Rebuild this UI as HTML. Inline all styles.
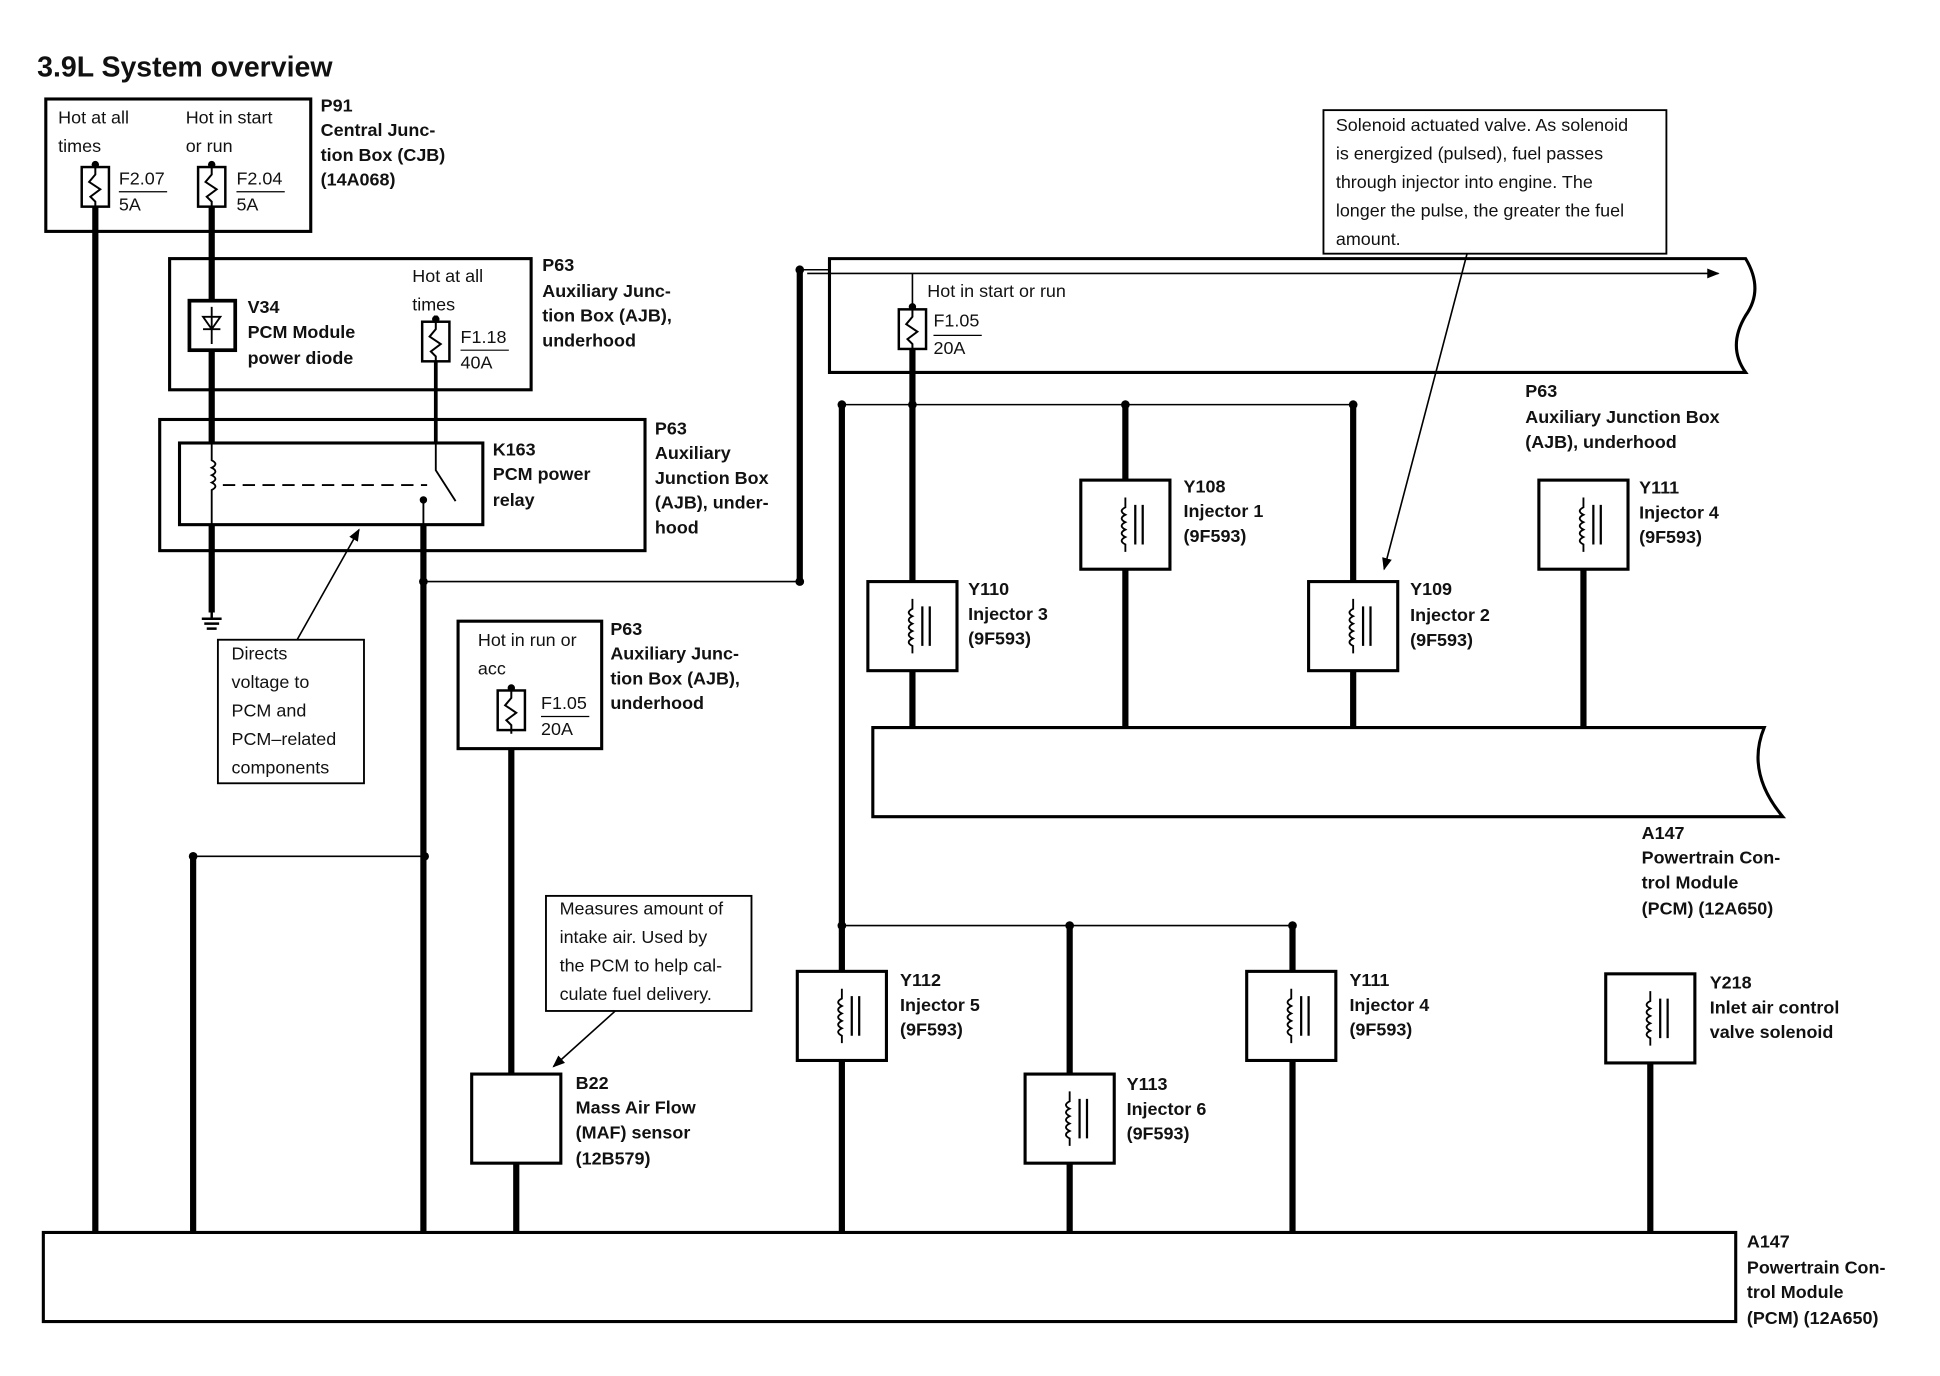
<!DOCTYPE html>
<html><head><meta charset="utf-8"><style>
html,body{margin:0;padding:0;background:#fff;}
svg{display:block}
text{font-family:"Liberation Sans",Arial,sans-serif;font-size:14.5px;fill:#111}
.b{font-weight:bold}
</style></head><body>
<svg width="1940" height="1376" viewBox="0 0 1567 1112" preserveAspectRatio="none" xmlns="http://www.w3.org/2000/svg">
<defs>
<g id="fuse"><rect x="-11" y="0" width="22" height="32" fill="#fff" stroke="#000" stroke-width="2"/><path d="M0,-3 V6 L-5,12 L4,18 L-4,24 L0,28 V35" fill="none" stroke="#000" stroke-width="1.6"/><circle cx="0" cy="-2" r="3"/></g>
<g id="inj"><rect x="-36" y="0" width="72" height="72" fill="#fff" stroke="#000" stroke-width="2.5"/><path d="M0,14 V22 q-6,3 0,6 q-6,3 0,6 q-6,3 0,6 q-6,3 0,6 q-6,3 0,6 V58" fill="none" stroke="#000" stroke-width="1.5"/><path d="M8,20 V52 M14,20 V52" stroke="#000" stroke-width="1.8"/></g>
<marker id="ar" markerWidth="10" markerHeight="10" refX="9" refY="5" orient="auto" markerUnits="userSpaceOnUse"><path d="M0,1 L10,5 L0,9 z"/></marker>
</defs>
<g fill="none" stroke="#000">
<text x="30" y="62" class="b" style="font-size:23px" stroke="none">3.9L System overview</text>
<rect x="37" y="80" width="214" height="107" stroke-width="2.5"/>
<path d="M77,167 V997 M171,167 V495 M342,404 V997 M156,692 V997 M680,327 V997 M417,940 V997 M864,748 V868 M864,940 V997 M1044,748 V785 M1044,857 V997 M1333,859 V997 M413,605 V868 M737,282 V588 M909,327 V388 M909,458 V588 M1093,327 V470 M1093,540 V588 M1279,460 V588 M646,218 V470" stroke-width="5"/>
<path d="M352,292 V380 M352,255 V262" stroke-width="3"/>
<rect x="137" y="209" width="292" height="106" stroke-width="2.5"/>
<rect x="153" y="243" width="37" height="40" fill="#fff" stroke-width="3"/>
<path d="M171,248 V278 M164,256 H178 L171,266 Z M164,266 H178" stroke-width="1.5"/>
<rect x="129" y="339" width="392" height="106" stroke-width="2.5"/>
<rect x="145" y="358" width="245" height="66" fill="#fff" stroke-width="2.5"/>
<path d="M171,358 V372 q6,3 0,6 q6,3 0,6 q6,3 0,6 q6,3 0,6 V424" stroke-width="1.5"/>
<path d="M180,392 H345" stroke-width="1.5" stroke-dasharray="10,6"/>
<path d="M352,358 V380 L368,405" stroke-width="1.5"/>
<path d="M342,404 V424" stroke-width="1.5"/>
<circle cx="342" cy="404" r="2.5" fill="#000"/>
<path d="M171,495 V500 M163,500 H179 M165,504 H177 M167,508 H175" stroke-width="2"/>
<rect x="176" y="517" width="118" height="116" stroke-width="1.5"/>
<path d="M240,517 L290,428" stroke-width="1.3" marker-end="url(#ar)"/>
<path d="M342,470 H646 M646,218 H670 M156,692 H343" stroke-width="1.3"/>
<path d="M670,209 H1410 q15,25 0,46 q-15,25 0,46 H670 Z" stroke-width="2.5"/>
<path d="M652,221 H1388" stroke-width="1.3" marker-end="url(#ar)"/>
<path d="M737,221 V250" stroke-width="1.3"/>
<rect x="1069" y="89" width="277" height="116" stroke-width="1.5"/>
<path d="M1185,205 L1118,460" stroke-width="1.3" marker-end="url(#ar)"/>
<path d="M680,327 H1093 M680,748 H1044" stroke-width="1.3"/>
<path d="M705,588 H1425 q-15,36 15,72 H705 Z" stroke-width="2.5"/>
<rect x="370" y="502" width="116" height="103" stroke-width="2.5"/>
<rect x="441" y="724" width="166" height="93" stroke-width="1.5"/>
<path d="M497,817 L447,862" stroke-width="1.3" marker-end="url(#ar)"/>
<rect x="381" y="868" width="72" height="72" stroke-width="2.5"/>
<rect x="35" y="996" width="1367" height="72" stroke-width="2.5"/>
<path d="M96,155 H135 M191,155 H230 M372,283 H411 M754,271 H793 M437,579 H476" stroke-width="1"/>
</g>
<g fill="#000">
<circle cx="342" cy="470" r="3.5"/><circle cx="646" cy="218" r="3.5"/><circle cx="646" cy="470" r="3.5"/>
<circle cx="156" cy="692" r="3.5"/><circle cx="343" cy="692" r="3.5"/>
<circle cx="680" cy="327" r="3.5"/><circle cx="737" cy="327" r="3.5"/><circle cx="909" cy="327" r="3.5"/><circle cx="1093" cy="327" r="3.5"/>
<circle cx="680" cy="748" r="3.5"/><circle cx="864" cy="748" r="3.5"/><circle cx="1044" cy="748" r="3.5"/>
</g>
<use href="#fuse" x="77" y="135"/><use href="#fuse" x="171" y="135"/><use href="#fuse" x="352" y="260"/><use href="#fuse" x="737" y="250"/><use href="#fuse" x="413" y="558"/>
<use href="#inj" x="909" y="388"/><use href="#inj" x="737" y="470"/><use href="#inj" x="1093" y="470"/><use href="#inj" x="1279" y="388"/>
<use href="#inj" x="680" y="785"/><use href="#inj" x="864" y="868"/><use href="#inj" x="1043" y="785"/><use href="#inj" x="1333" y="787"/>
<text x="47" y="100">Hot at all</text><text x="47" y="123">times</text>
<text x="150" y="100">Hot in start</text><text x="150" y="123">or run</text>
<text x="96" y="149">F2.07</text><text x="96" y="170">5A</text>
<text x="191" y="149">F2.04</text><text x="191" y="170">5A</text>
<text class="b" x="259" y="90">P91</text><text class="b" x="259" y="110">Central Junc-</text><text class="b" x="259" y="130">tion Box (CJB)</text><text class="b" x="259" y="150">(14A068)</text>
<text class="b" x="200" y="253">V34</text><text class="b" x="200" y="273">PCM Module</text><text class="b" x="200" y="294">power diode</text>
<text x="333" y="228">Hot at all</text><text x="333" y="251">times</text>
<text x="372" y="277">F1.18</text><text x="372" y="298">40A</text>
<text class="b" x="438" y="219">P63</text><text class="b" x="438" y="240">Auxiliary Junc-</text><text class="b" x="438" y="260">tion Box (AJB),</text><text class="b" x="438" y="280">underhood</text>
<text class="b" x="398" y="368">K163</text><text class="b" x="398" y="388">PCM power</text><text class="b" x="398" y="409">relay</text>
<text class="b" x="529" y="351">P63</text><text class="b" x="529" y="371">Auxiliary</text><text class="b" x="529" y="391">Junction Box</text><text class="b" x="529" y="411">(AJB), under-</text><text class="b" x="529" y="431">hood</text>
<text x="187" y="533">Directs</text><text x="187" y="556">voltage to</text><text x="187" y="579">PCM and</text><text x="187" y="602">PCM–related</text><text x="187" y="625">components</text>
<text x="749" y="240">Hot in start or run</text><text x="754" y="264">F1.05</text><text x="754" y="286">20A</text>
<text x="1079" y="106">Solenoid actuated valve. As solenoid</text><text x="1079" y="129">is energized (pulsed), fuel passes</text><text x="1079" y="152">through injector into engine. The</text><text x="1079" y="175">longer the pulse, the greater the fuel</text><text x="1079" y="198">amount.</text>
<text class="b" x="1232" y="321">P63</text><text class="b" x="1232" y="342">Auxiliary Junction Box</text><text class="b" x="1232" y="362">(AJB), underhood</text>
<text class="b" x="956" y="398">Y108</text><text class="b" x="956" y="418">Injector 1</text><text class="b" x="956" y="438">(9F593)</text>
<text class="b" x="1324" y="399">Y111</text><text class="b" x="1324" y="419">Injector 4</text><text class="b" x="1324" y="439">(9F593)</text>
<text class="b" x="782" y="481">Y110</text><text class="b" x="782" y="501">Injector 3</text><text class="b" x="782" y="521">(9F593)</text>
<text class="b" x="1139" y="481">Y109</text><text class="b" x="1139" y="502">Injector 2</text><text class="b" x="1139" y="522">(9F593)</text>
<text class="b" x="1326" y="678">A147</text><text class="b" x="1326" y="698">Powertrain Con-</text><text class="b" x="1326" y="718">trol Module</text><text class="b" x="1326" y="739">(PCM) (12A650)</text>
<text x="386" y="522">Hot in run or</text><text x="386" y="545">acc</text><text x="437" y="573">F1.05</text><text x="437" y="594">20A</text>
<text class="b" x="493" y="513">P63</text><text class="b" x="493" y="533">Auxiliary Junc-</text><text class="b" x="493" y="553">tion Box (AJB),</text><text class="b" x="493" y="573">underhood</text>
<text x="452" y="739">Measures amount of</text><text x="452" y="762">intake air. Used by</text><text x="452" y="785">the PCM to help cal-</text><text x="452" y="808">culate fuel delivery.</text>
<text class="b" x="465" y="880">B22</text><text class="b" x="465" y="900">Mass Air Flow</text><text class="b" x="465" y="920">(MAF) sensor</text><text class="b" x="465" y="941">(12B579)</text>
<text class="b" x="727" y="797">Y112</text><text class="b" x="727" y="817">Injector 5</text><text class="b" x="727" y="837">(9F593)</text>
<text class="b" x="910" y="881">Y113</text><text class="b" x="910" y="901">Injector 6</text><text class="b" x="910" y="921">(9F593)</text>
<text class="b" x="1090" y="797">Y111</text><text class="b" x="1090" y="817">Injector 4</text><text class="b" x="1090" y="837">(9F593)</text>
<text class="b" x="1381" y="799">Y218</text><text class="b" x="1381" y="819">Inlet air control</text><text class="b" x="1381" y="839">valve solenoid</text>
<text class="b" x="1411" y="1008">A147</text><text class="b" x="1411" y="1029">Powertrain Con-</text><text class="b" x="1411" y="1049">trol Module</text><text class="b" x="1411" y="1070">(PCM) (12A650)</text>
</svg>
</body></html>
